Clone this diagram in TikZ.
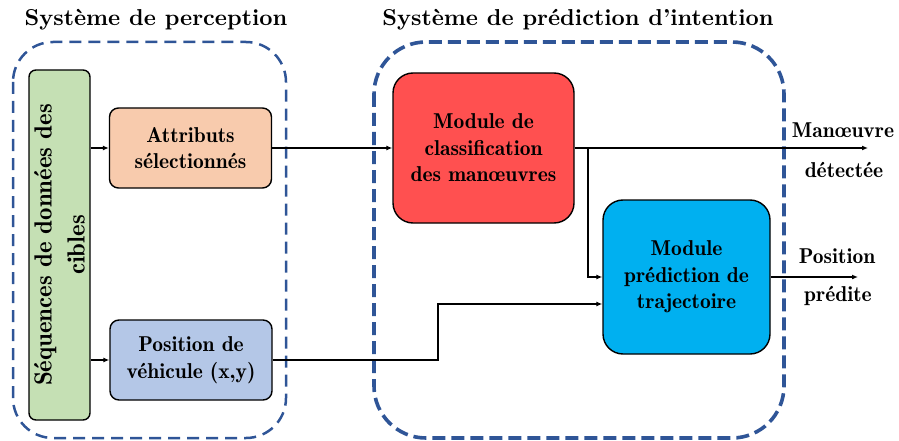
\documentclass[tikz,border=0pt]{standalone}
\usepackage{fontspec}
\setmainfont{lmroman10-regular.otf}[BoldFont=lmroman10-bold.otf]
\newfontfamily\demifont{lmromandemi10-regular.otf}
\usepackage{graphicx}
\usetikzlibrary{arrows.meta}
\definecolor{cgreen}{HTML}{C5E0B4}
\definecolor{corange}{HTML}{F8CBAD}
\definecolor{cblue}{HTML}{B4C7E7}
\definecolor{cred}{HTML}{FF5050}
\definecolor{ccyan}{HTML}{00B0F0}
\definecolor{cdash}{HTML}{2F5597}
\tikzset{
  box/.style={draw=black, line width=1.4pt, rounded corners=9pt, align=center,
    inner sep=0pt, font=\fontsize{21.5}{26.5}\selectfont\demifont},
  bigbox/.style={box, rounded corners=20pt},
  arr/.style={draw=black, line width=1.3pt, -{Latex[length=6pt,width=5pt]}},
  lbl/.style={font=\fontsize{21.5}{22}\selectfont\demifont, inner sep=0pt},
  ttl/.style={font=\fontsize{23}{26}\selectfont\bfseries, inner sep=0pt},
  group/.style={draw=cdash, dash pattern=on 12pt off 7pt},
}
\begin{document}
\begin{tikzpicture}[x=1pt,y=-1pt]
\useasboundingbox (0,0) rectangle (899,441);
% group frames
\draw[group, line width=2.5pt, rounded corners=40pt] (13,42) rectangle (286,438);
\draw[group, line width=3.6pt, rounded corners=52pt, dash pattern=on 13pt off 6pt] (374,42) rectangle (784,438);
\node[ttl] (t1) at (156,20) {Système de perception};
\node[ttl] (t2) at (578,20) {Système de prédiction d’intention};
% nodes
\node[box, fill=cgreen, minimum width=61pt, minimum height=350pt, rounded corners=7pt] (seq) at (59.5,245)
  {\rotatebox{90}{\parbox{330pt}{\centering\fontsize{24.8}{33}\selectfont\demifont Séquences de données des\\ cibles}}};
\node[box, fill=corange, minimum width=162pt, minimum height=80pt] (attr) at (190.5,148) {Attributs\\sélectionnés};
\node[box, fill=cblue, minimum width=162pt, minimum height=80pt] (pos) at (191,360) {Position de\\véhicule (x,y)};
\node[bigbox, fill=cred, minimum width=181pt, minimum height=150pt] (cls) at (483.5,148) {Module de\\classification\\des manœuvres};
\node[bigbox, fill=ccyan, minimum width=167pt, minimum height=154pt] (traj) at (686.5,277) {Module\\prédiction de\\trajectoire};
% coordinates
\coordinate (br) at (588,148);
\coordinate (k1) at (438,304);
\coordinate (o1) at (868,148);
\coordinate (o2) at (858,277);
% connectors
\draw[arr] (attr.west -| seq.east) -- (attr.west);
\draw[arr] (pos.west -| seq.east) -- (pos.west);
\draw[arr] (attr.east) -- (cls.west);
\draw[arr] (cls.east) -- (o1);
\draw[arr] (br) |- (traj.west);
\draw[arr] (pos.east) -| (k1) -- (k1 -| traj.west);
\draw[arr] (traj.east) -- (o2);
% output labels
\node[lbl] (l1) at (843,130) {Manœuvre};
\node[lbl] (l2) at (844,170) {détectée};
\node[lbl] (l3) at (837,256) {Position};
\node[lbl] (l4) at (838,296) {prédite};
\end{tikzpicture}
\end{document}
